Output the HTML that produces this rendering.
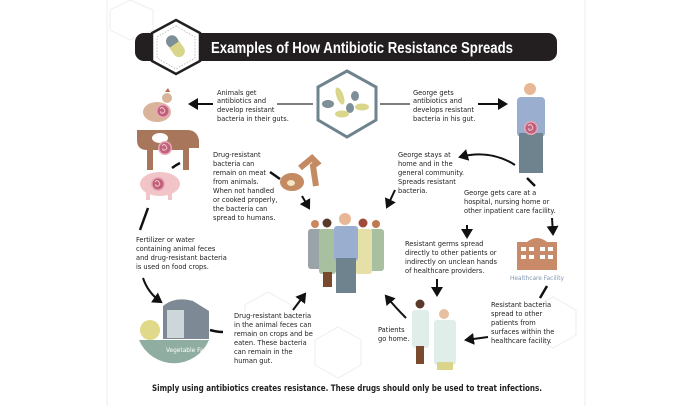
<!DOCTYPE html>
<html><head><meta charset="utf-8"><style>
html,body{margin:0;padding:0;background:#fff;}
svg{display:block;}
text{font-family:"DejaVu Sans Condensed","Liberation Sans Narrow","Liberation Sans",sans-serif;font-size:7.4px;fill:#222;}
</style></head><body>
<svg width="685" height="406" viewBox="0 0 685 406" xmlns="http://www.w3.org/2000/svg">
<defs>
<marker id="a" markerWidth="6" markerHeight="6" refX="4" refY="3" orient="auto" markerUnits="strokeWidth"><path d="M0,0 L5,3 L0,6 z" fill="#111"/></marker>
<g id="gut"><circle r="7" fill="#e9a8b8"/><circle r="5.5" fill="#c0607a"/><path d="M-3,-2 q2,-3 4,0 q2,3 -1,4 q-3,1 -2,-2" stroke="#f2c9d3" fill="none" stroke-width="1"/></g>
</defs>
<line x1="107" y1="0" x2="107" y2="406" stroke="#eee"/>
<line x1="585" y1="0" x2="585" y2="406" stroke="#eee"/>
<g stroke="#eee" fill="none">
<polygon points="245,305 268,292 291,305 291,330 268,343 245,330"/>
<polygon points="315,340 338,327 361,340 361,365 338,378 315,365"/>
<polygon points="530,310 553,297 576,310 576,335 553,348 530,335"/>
<polygon points="110,10 130,0 153,10 153,30 130,40 110,30"/>
</g>
<!-- title -->
<rect x="135" y="33" width="422" height="28" rx="9" fill="#231f20"/>
<polygon points="176,20 200,33 200,61 176,74 152,61 152,33" fill="#fff" stroke="#231f20" stroke-width="2.5"/>
<polygon points="176,26 195,37 195,58 176,69 157,58 157,37" fill="none" stroke="#aaa" stroke-width="0.7" stroke-dasharray="1.5,1.5"/>
<g transform="rotate(-35 176 47)"><rect x="170" y="34" width="12" height="13" rx="6" fill="#7d8f99"/><rect x="170" y="44" width="12" height="14" rx="6" fill="#d9d58a"/><rect x="170" y="44" width="12" height="4" fill="#d9d58a"/></g>
<text x="211" y="53" textLength="302" lengthAdjust="spacingAndGlyphs" style="font-family:'Liberation Sans',sans-serif;font-weight:bold;font-size:15.5px;fill:#fff">Examples of How Antibiotic Resistance Spreads</text>
<!-- center hexagon -->
<line x1="277" y1="104" x2="313" y2="104" stroke="#555" stroke-width="1.5"/>
<line x1="380" y1="104" x2="410" y2="104" stroke="#555" stroke-width="1.5"/>
<polygon points="347,71 376,87 376,120 347,137 318,120 318,87" fill="#fff" stroke="#6f838e" stroke-width="3"/>
<ellipse cx="328" cy="104" rx="6" ry="4" fill="#7d8f99"/>
<ellipse cx="340" cy="96" rx="3.5" ry="9" fill="#d9d58a" transform="rotate(-20 340 96)"/>
<ellipse cx="350" cy="108" rx="4" ry="5" fill="#7d8f99"/>
<ellipse cx="342" cy="114" rx="7" ry="3.5" fill="#d9d58a"/>
<ellipse cx="355" cy="96" rx="4" ry="5" fill="#7d8f99"/>
<ellipse cx="362" cy="107" rx="7" ry="3.5" fill="#d9d58a"/>
<line x1="213" y1="104" x2="190" y2="104" stroke="#111" stroke-width="2" marker-end="url(#a)"/>
<line x1="478" y1="104" x2="506" y2="104" stroke="#111" stroke-width="2" marker-end="url(#a)"/>
<text x="217" y="95">Animals get</text><text x="217" y="103">antibiotics and</text><text x="217" y="112">develop resistant</text><text x="217" y="121">bacteria in their guts.</text>
<text x="413" y="95">George gets</text><text x="413" y="103">antibiotics and</text><text x="413" y="112">develops resistant</text><text x="413" y="121">bacteria in his gut.</text>
<!-- George -->
<circle cx="530" cy="89" r="6" fill="#e8b896"/>
<rect x="517" y="97" width="28" height="40" rx="4" fill="#9aaed0"/>
<rect x="519" y="133" width="24" height="40" fill="#6f838e"/>
<use href="#gut" x="531" y="128"/>
<!-- animals -->
<ellipse cx="157" cy="112" rx="14" ry="10" fill="#d9b49a"/><circle cx="167" cy="98" r="5" fill="#d9b49a"/><path d="M165,92 l3,-4 l2,4z" fill="#b86a4a"/>
<use href="#gut" x="163" y="111"/>
<path d="M137,130 h50 q10,0 12,10 v8 h-10 v22 h-6 v-20 h-30 v20 h-6 v-20 q-10,0 -10,-10z" fill="#a8765a"/>
<ellipse cx="160" cy="138" rx="8" ry="5" fill="#fff"/>
<use href="#gut" x="165" y="148"/>
<ellipse cx="160" cy="184" rx="20" ry="12" fill="#f1c4c8"/><rect x="146" y="190" width="4" height="10" fill="#f1c4c8"/><rect x="168" y="190" width="4" height="10" fill="#f1c4c8"/>
<use href="#gut" x="158" y="184"/>
<path d="M172,168 q4,-3 8,-5" stroke="#111" stroke-width="2.5" fill="none"/>
<text x="213" y="157">Drug-resistant</text><text x="213" y="166">bacteria can</text><text x="213" y="175">remain on meat</text><text x="213" y="184">from animals.</text><text x="213" y="193">When not handled</text><text x="213" y="202">or cooked properly,</text><text x="213" y="211">the bacteria can</text><text x="213" y="220">spread to humans.</text>
<path d="M270,172 l10,7" stroke="#111" stroke-width="2.5"/>
<ellipse cx="292" cy="182" rx="12" ry="9" fill="#c48a62"/><ellipse cx="291" cy="183" rx="4" ry="3" fill="#f3e5c2"/>
<path d="M300,168 l12,-10 l5,5 l-4,3 l3,20" stroke="#c48a62" stroke-width="6" fill="none"/>
<line x1="302" y1="196" x2="309" y2="208" stroke="#111" stroke-width="2" marker-end="url(#a)"/>
<line x1="395" y1="190" x2="387" y2="207" stroke="#111" stroke-width="2" marker-end="url(#a)"/>
<text x="398" y="157">George stays at</text><text x="398" y="166">home and in the</text><text x="398" y="175">general community.</text><text x="398" y="184">Spreads resistant</text><text x="398" y="193">bacteria.</text>
<path d="M515,165 q-25,-16 -55,-8" stroke="#111" stroke-width="2" fill="none" marker-end="url(#a)"/>
<path d="M527,178 l8,8" stroke="#111" stroke-width="2.5"/>
<text x="464" y="195">George gets care at a</text><text x="464" y="204">hospital, nursing home or</text><text x="464" y="213">other inpatient care facility.</text>
<line x1="467" y1="225" x2="467" y2="237" stroke="#111" stroke-width="2" marker-end="url(#a)"/>
<line x1="552" y1="218" x2="553" y2="234" stroke="#111" stroke-width="2" marker-end="url(#a)"/>
<g>
<circle cx="315" cy="224" r="4" fill="#c98860"/><rect x="308" y="229" width="14" height="40" rx="3" fill="#9aa4a8"/>
<circle cx="327" cy="223" r="4.5" fill="#5a3a2a"/><rect x="319" y="229" width="17" height="45" rx="3" fill="#a8bfa0"/><rect x="323" y="272" width="9" height="15" fill="#7a4a2e"/>
<circle cx="376" cy="224" r="4" fill="#c07a50"/><rect x="370" y="229" width="14" height="42" rx="3" fill="#a8bfa0"/>
<circle cx="363" cy="223" r="4.5" fill="#a04a3a"/><rect x="355" y="229" width="17" height="45" rx="3" fill="#e5e0a8"/>
<circle cx="345" cy="219" r="6" fill="#e8b896"/><rect x="334" y="226" width="24" height="35" rx="3" fill="#9aaed0"/><rect x="336" y="258" width="20" height="35" fill="#6f838e"/>
</g>
<text x="405" y="246">Resistant germs spread</text><text x="405" y="255">directly to other patients or</text><text x="405" y="264">indirectly on unclean hands</text><text x="405" y="273">of healthcare providers.</text>
<rect x="517" y="242" width="40" height="28" fill="#c98a6a"/><path d="M527,242 q10,-8 20,0z" fill="#c98a6a"/>
<g fill="#fff"><rect x="521" y="247" width="5" height="4"/><rect x="529" y="247" width="5" height="4"/><rect x="540" y="247" width="5" height="4"/><rect x="548" y="247" width="5" height="4"/><rect x="521" y="255" width="5" height="4"/><rect x="529" y="255" width="5" height="4"/><rect x="540" y="255" width="5" height="4"/><rect x="548" y="255" width="5" height="4"/></g>
<text x="537" y="280" text-anchor="middle" style="font-size:6.5px;fill:#8096b0">Healthcare Facility</text>
<line x1="148" y1="208" x2="140" y2="230" stroke="#111" stroke-width="2.5"/>
<text x="136" y="242">Fertilizer or water</text><text x="136" y="251">containing animal feces</text><text x="136" y="260">and drug-resistant bacteria</text><text x="136" y="269">is used on food crops.</text>
<path d="M143,278 q5,15 18,24" stroke="#111" stroke-width="2" fill="none" marker-end="url(#a)"/>
<path d="M139,340 a38,38 0 0 0 70,0z" fill="#8fada0"/>
<circle cx="150" cy="330" r="10" fill="#e0d98a"/>
<path d="M163,306 q12,-10 30,-5 l16,10 v28 h-46z" fill="#7d8a95"/>
<rect x="167" y="310" width="17" height="28" fill="#cfd6da"/>
<text x="166" y="352" style="font-size:6.5px;fill:#fff">Vegetable Farm</text>
<path d="M210,330 q7,2 13,2" stroke="#111" stroke-width="2.5" fill="none"/>
<text x="234" y="318">Drug-resistant bacteria</text><text x="234" y="327">in the animal feces can</text><text x="234" y="336">remain on crops and be</text><text x="234" y="345">eaten. These bacteria</text><text x="234" y="354">can remain in the</text><text x="234" y="363">human gut.</text>
<line x1="293" y1="310" x2="305" y2="294" stroke="#111" stroke-width="2" marker-end="url(#a)"/>
<line x1="437" y1="279" x2="437" y2="295" stroke="#111" stroke-width="2" marker-end="url(#a)"/>
<path d="M406,318 q-10,-10 -20,-22" stroke="#111" stroke-width="2" fill="none" marker-end="url(#a)"/>
<circle cx="420" cy="304" r="4.5" fill="#5a3a2a"/><rect x="412" y="310" width="17" height="38" rx="3" fill="#dfeee8"/><rect x="416" y="346" width="8" height="18" fill="#7a4a2e"/>
<circle cx="444" cy="314" r="5" fill="#e8c0a0"/><rect x="434" y="320" width="22" height="45" rx="3" fill="#dfeee8"/><rect x="437" y="362" width="16" height="8" fill="#d9d58a"/>
<text x="378" y="332">Patients</text><text x="378" y="341">go home.</text>
<line x1="547" y1="286" x2="540" y2="298" stroke="#111" stroke-width="2.5"/>
<text x="491" y="307">Resistant bacteria</text><text x="491" y="316">spread to other</text><text x="491" y="325">patients from</text><text x="491" y="334">surfaces within the</text><text x="491" y="343">healthcare facility.</text>
<line x1="488" y1="337" x2="466" y2="340" stroke="#111" stroke-width="2" marker-end="url(#a)"/>
<text x="152" y="391" textLength="390" lengthAdjust="spacingAndGlyphs" style="font-weight:bold;font-size:8.4px">Simply using antibiotics creates resistance.  These drugs should only be used to treat infections.</text>
</svg>
</body></html>
